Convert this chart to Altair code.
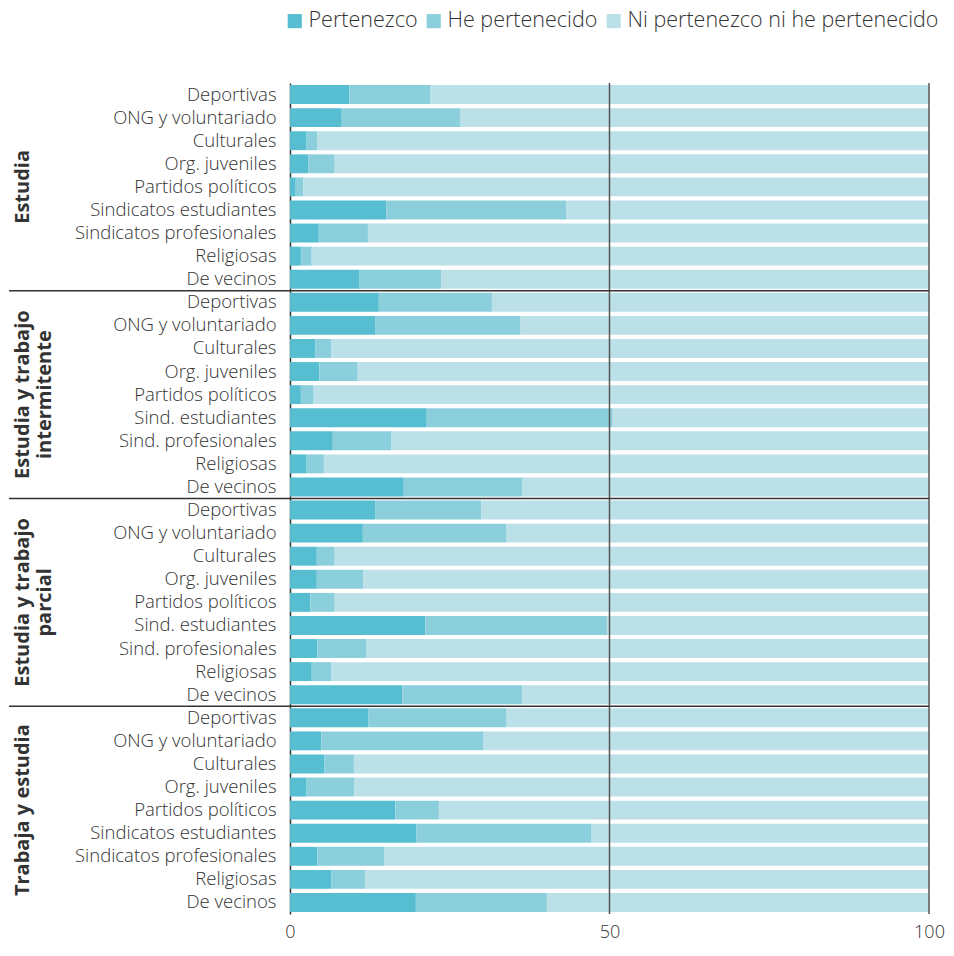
import altair as alt
import pandas as pd

group_ids = ["g1", "g2", "g3", "g4"]
group_labels = ["Estudia", "Estudia y trabajo\nintermitente", "Estudia y trabajo\nparcial", "Trabaja y estudia"]

orgs_full = ["Deportivas", "ONG y voluntariado", "Culturales", "Org. juveniles", "Partidos políticos",
             "Sindicatos estudiantes", "Sindicatos profesionales", "Religiosas", "De vecinos"]
orgs_short = ["Deportivas", "ONG y voluntariado", "Culturales", "Org. juveniles", "Partidos políticos",
              "Sind. estudiantes", "Sind. profesionales", "Religiosas", "De vecinos"]
group_orgs = [orgs_full, orgs_short, orgs_short, orgs_full]

categories = ["Pertenezco", "He pertenecido", "Ni pertenezco ni he pertenecido"]
colors = ["#56BED0", "#8CCFDC", "#BBE0E7"]

pertenezco = [
    [9.3, 8.1, 2.6, 2.9, 0.9, 15.1, 4.5, 1.7, 10.9],
    [13.9, 13.4, 4.0, 4.6, 1.7, 21.4, 6.7, 2.6, 17.8],
    [13.4, 11.4, 4.2, 4.2, 3.2, 21.2, 4.3, 3.4, 17.6],
    [12.3, 4.9, 5.4, 2.6, 16.5, 19.8, 4.3, 6.5, 19.7],
]
he_pertenecido = [
    [12.7, 18.5, 1.7, 4.1, 1.2, 28.1, 7.7, 1.7, 12.8],
    [17.7, 22.6, 2.5, 6.0, 2.0, 29.1, 9.2, 2.7, 18.6],
    [16.5, 22.5, 2.8, 7.3, 3.8, 28.4, 7.7, 3.1, 18.7],
    [21.6, 25.4, 4.6, 7.5, 6.8, 27.4, 10.5, 5.3, 20.5],
]

rows = []
keys = []
for gi, g in enumerate(group_ids):
    for oi, org in enumerate(group_orgs[gi]):
        key = f"{g}|{org}"
        keys.append(key)
        p = pertenezco[gi][oi]
        h = he_pertenecido[gi][oi]
        n = round(100 - p - h, 1)
        for ci, (cat, v) in enumerate(zip(categories, [p, h, n])):
            rows.append({"key": key, "cat": cat, "value": v, "ord": ci})
df = pd.DataFrame(rows)

sep_df = pd.DataFrame({"key": [keys[9], keys[18], keys[27]]})
glab_df = pd.DataFrame({"key": [keys[4], keys[13], keys[22], keys[31]], "label": group_labels})
ref_df = pd.DataFrame({"v": [50, 100]})

W = 639
H = 831
FONT = "Open Sans"

yscale = alt.Scale(domain=keys, paddingInner=0, paddingOuter=0)

bars = alt.Chart(df).mark_bar(height=alt.RelativeBandSize(0.82)).encode(
    y=alt.Y("key:N", scale=yscale, title=None,
            axis=alt.Axis(labelExpr="split(datum.label, '|')[1]", ticks=False, domain=True,
                          domainColor="#333", domainWidth=1.5, labelFontSize=18.5,
                          labelFont=FONT, labelFontWeight=300,
                          labelColor="#333", labelPadding=14, labelLimit=400)),
    x=alt.X("value:Q", stack="zero", scale=alt.Scale(domain=[0, 100], nice=False), title=None,
            axis=alt.Axis(values=[0, 50, 100], ticks=False, domain=False, grid=False,
                          labelFontSize=18, labelFont=FONT, labelFontWeight=300,
                          labelColor="#333", labelPadding=9, labelFlush=False)),
    color=alt.Color("cat:N", scale=alt.Scale(domain=categories, range=colors),
                    legend=alt.Legend(orient="none", legendX=-6, legendY=-73, direction="horizontal",
                                      title=None, symbolType="square", symbolSize=200,
                                      symbolStrokeWidth=0, labelFontSize=21.5, labelFont=FONT,
                                      labelFontWeight=300, labelColor="#333",
                                      columnPadding=5, labelOffset=3, labelLimit=500, columns=3)),
    order=alt.Order("ord:Q"),
)

refs = alt.Chart(ref_df).mark_rule(color="#555", strokeWidth=1.5).encode(x="v:Q")

seps = alt.Chart(sep_df).mark_rule(color="#333", strokeWidth=1.5).encode(
    y=alt.Y("key:N", bandPosition=0),
    x=alt.value(-281),
    x2=alt.value(W),
)

glabs = alt.Chart(glab_df).mark_text(angle=270, align="center", baseline="top", fontSize=20,
                                     font=FONT, fontWeight="bold", lineBreak="\n", lineHeight=22,
                                     color="#333").encode(
    y=alt.Y("key:N"),
    x=alt.value(-277),
    text="label:N",
)

chart = alt.layer(bars, refs, seps, glabs).properties(
    width=W, height=H, padding={"left": 0, "top": 2, "right": 0, "bottom": 0}
).configure(font=FONT).configure_view(strokeWidth=0)

chart.save("out.html", embed_options={"renderer": "svg", "actions": False})
